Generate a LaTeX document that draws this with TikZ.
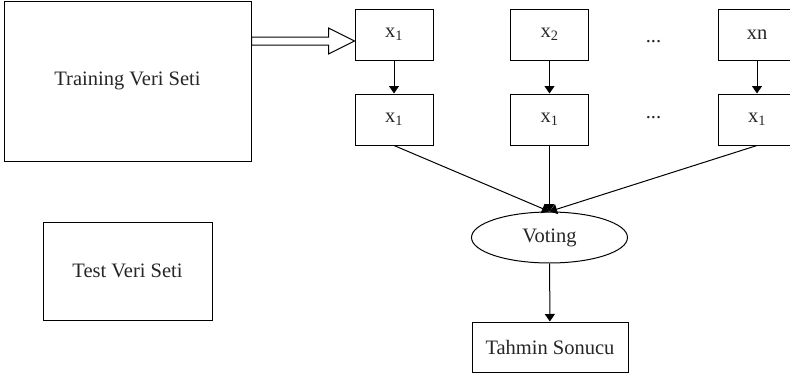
\documentclass[tikz,border=0pt]{standalone}
\usepackage{fontspec}
\setmainfont{Liberation Serif}
\usetikzlibrary{arrows.meta,shapes.geometric,calc}
\begin{document}
\begin{tikzpicture}[x=1pt,y=-1pt,
  every node/.style={font=\fontsize{20.5}{24}\selectfont, inner sep=0pt, text=black!85},
  bigbox/.style={draw, line width=1pt},
  xbox/.style={draw, line width=1pt, minimum width=78pt, minimum height=51pt},
  conn/.style={line width=1pt, -{Triangle[width=10pt,length=7.5pt]}},
  hollow/.style={draw, line width=1pt, fill=white}]
\useasboundingbox (0,0) rectangle (790,375);
\node[bigbox, minimum width=247pt, minimum height=160pt] (train) at (127.5,81) {Training Veri Seti};
\node[bigbox, minimum width=169pt, minimum height=98pt] (test) at (127.5,271) {Test Veri Seti};
\node[xbox] (a1) at (394,34.5) {x\textsubscript{1}};
\node[xbox] (a2) at (549.5,34.5) {x\textsubscript{2}};
\node[xbox] (an) at (757,34.5) {xn};
\node[xbox] (b1) at (394,119.5) {x\textsubscript{1}};
\node[xbox] (b2) at (549.5,119.5) {x\textsubscript{1}};
\node[xbox] (bn) at (757,119.5) {x\textsubscript{1}};
\node[anchor=base] (d1) at (653.5,42) {...};
\node[anchor=base] (d2) at (653.5,118) {...};
\node[draw, line width=1pt, ellipse, minimum width=156pt, minimum height=51pt] (vote) at (549.5,237.5) {Voting};
\node[bigbox, minimum width=156pt, minimum height=50pt] (res) at (550,347) {Tahmin Sonucu};
% hollow block arrow
\coordinate (hs) at ($(train.east |- a1.west)+(0,6.5)$);
\coordinate (ht) at ($(a1.west)+(0,6.5)$);
\draw[hollow] ($(hs)+(0,-4)$) -- ($(ht)+(-26,-4)$) -- ($(ht)+(-26,-13)$) -- (ht)
  -- ($(ht)+(-26,13)$) -- ($(ht)+(-26,4)$) -- ($(hs)+(0,4)$) -- cycle;
\draw[conn] (a1) -- (b1);
\draw[conn] (a2) -- (b2);
\draw[conn] (an) -- (bn);
\draw[conn] (b1.south) -- (vote.north);
\draw[conn] (b2.south) -- (vote.north);
\draw[conn] (bn.south) -- (vote.north);
\draw[conn] (vote) -- (res);
\end{tikzpicture}
\end{document}
